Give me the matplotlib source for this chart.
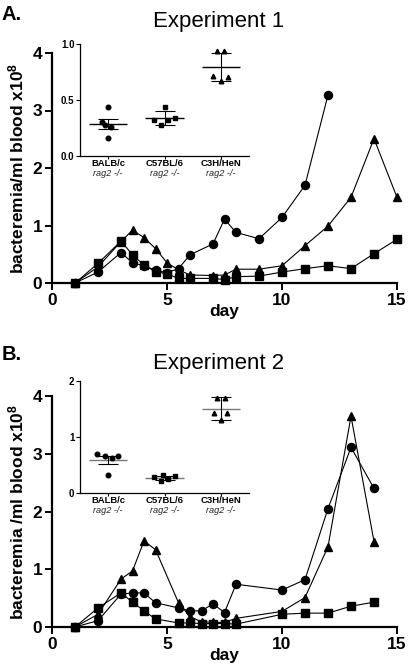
import matplotlib
matplotlib.use('Agg')
import matplotlib.pyplot as plt
import numpy as np

plt.rcParams['font.family'] = ['Liberation Sans', 'DejaVu Sans']
plt.rcParams['mathtext.fontset'] = 'custom'
plt.rcParams['mathtext.rm'] = 'Liberation Sans'
plt.rcParams['mathtext.bf'] = 'Liberation Sans:bold'
plt.rcParams['mathtext.it'] = 'Liberation Sans:italic'

# ---------------- Experiment 1 ----------------
circ_a_days = [1, 2, 3, 3.5, 4, 4.5, 5, 5.5, 6, 7, 7.5, 8, 9, 10, 11, 12]
circ_a_vals = [0, 0.19, 0.53, 0.35, 0.30, 0.22, 0.18, 0.25, 0.49, 0.68, 1.11, 0.88, 0.77, 1.14, 1.70, 3.27]
tri_a_days = [1, 2, 3, 3.5, 4, 4.5, 5, 5.5, 6, 7, 7.5, 8, 9, 10, 11, 12, 13, 14, 15]
tri_a_vals = [0, 0.28, 0.72, 0.92, 0.79, 0.60, 0.35, 0.23, 0.14, 0.13, 0.14, 0.24, 0.24, 0.30, 0.65, 0.99, 1.49, 2.51, 1.49]
sq_a_days = [1, 2, 3, 3.5, 4, 4.5, 5, 5.5, 6, 7, 7.5, 8, 9, 10, 11, 12, 13, 14, 15]
sq_a_vals = [0, 0.34, 0.73, 0.49, 0.31, 0.20, 0.16, 0.08, 0.08, 0.08, 0.06, 0.11, 0.12, 0.19, 0.25, 0.30, 0.25, 0.51, 0.76]

# ---------------- Experiment 2 ----------------
circ_b_days = [1, 2, 3, 3.5, 4, 4.5, 5.5, 6, 6.5, 7, 7.5, 8, 10, 11, 12, 13, 14]
circ_b_vals = [0, 0.11, 0.57, 0.59, 0.59, 0.42, 0.33, 0.28, 0.28, 0.40, 0.25, 0.74, 0.64, 0.82, 2.05, 3.11, 2.40]
tri_b_days = [1, 2, 3, 3.5, 4, 4.5, 5.5, 6, 6.5, 7, 7.5, 8, 10, 11, 12, 13, 14]
tri_b_vals = [0, 0.22, 0.83, 0.97, 1.49, 1.34, 0.42, 0.18, 0.09, 0.08, 0.08, 0.15, 0.27, 0.51, 1.39, 3.65, 1.48]
sq_b_days = [1, 2, 3, 3.5, 4, 4.5, 5.5, 6, 6.5, 7, 7.5, 8, 10, 11, 12, 13, 14]
sq_b_vals = [0, 0.33, 0.59, 0.43, 0.28, 0.14, 0.07, 0.07, 0.06, 0.06, 0.06, 0.05, 0.22, 0.24, 0.24, 0.36, 0.43]

# ---------------- Insets ----------------
groups = ['BALB/c', 'C57BL/6', 'C3H/HeN']
group_sub = ['rag2 -/-', 'rag2 -/-', 'rag2 -/-']
ins_a_balb = [0.44, 0.30, 0.28, 0.26, 0.16]
ins_a_c57 = [0.44, 0.32, 0.28, 0.32, 0.34]
ins_a_c3h = [0.93, 0.93, 0.71, 0.67, 0.70]
ins_a_err = [0.045, 0.06, 0.125]
ins_b_balb = [0.69, 0.66, 0.63, 0.66, 0.33]
ins_b_c57 = [0.28, 0.32, 0.21, 0.25, 0.30]
ins_b_c3h = [1.70, 1.70, 1.42, 1.30, 1.42]
ins_b_err = [0.07, 0.04, 0.20]

jit_a = [[0, -0.11, -0.06, 0.05, 0],
         [0, -0.18, -0.06, 0.06, 0.18],
         [-0.07, 0.06, -0.14, 0, 0.12]]
jit_b = [[-0.19, -0.05, 0.07, 0.18, 0],
         [-0.18, -0.02, -0.07, 0.06, 0.18],
         [-0.07, 0.07, -0.12, 0, 0.11]]

fig = plt.figure(figsize=(4.08, 6.70), dpi=100)


def main_panel(rect, cd, cv, td, tv, sd, sv, ylabel):
    ax = fig.add_axes(rect)
    kw = dict(color='black', lw=0.8, mfc='black', mec='black', clip_on=False)
    ax.plot(sd, sv, marker='s', ms=5.5, zorder=3, **kw)
    ax.plot(cd, cv, marker='o', ms=5.8, zorder=3, **kw)
    ax.plot(td, tv, marker='^', ms=6.3, zorder=3, **kw)
    ax.set_xlim(0, 15)
    ax.set_ylim(0, 4)
    ax.set_xticks([0, 5, 10, 15])
    ax.set_yticks([0, 1, 2, 3, 4])
    for s in ['top', 'right']:
        ax.spines[s].set_visible(False)
    for s in ['left', 'bottom']:
        ax.spines[s].set_linewidth(1.6)
    ax.tick_params(width=1.4, length=5, labelsize=12.5, pad=2)
    for t in ax.get_xticklabels() + ax.get_yticklabels():
        t.set_fontweight('bold')
    ax.set_xlabel('day', fontsize=12.5, fontweight='bold', labelpad=-3)
    ax.set_ylabel(ylabel, fontsize=12.5, fontweight='bold')
    ax.yaxis.set_label_coords(-0.074, 0.5)
    return ax


def inset(rect, data, jit, err, ylim, yticks, yticklabels, mean_color):
    ax = fig.add_axes(rect)
    markers = ['o', 's', '^']
    for i, vals in enumerate(data):
        x = np.array(jit[i]) + i
        ax.plot(x, vals, ls='none', marker=markers[i], ms=3.3, color='black', zorder=3)
        m = np.mean(vals)
        ax.hlines(m, i - 0.34, i + 0.34, color=mean_color, lw=1.0, zorder=2)
        ax.errorbar([i], [m], yerr=[err[i]], fmt='none', ecolor='black',
                    elinewidth=0.8, capsize=7, capthick=0.8, zorder=2)
    ax.set_xlim(-0.5, 2.5)
    ax.set_ylim(*ylim)
    ax.set_yticks(yticks)
    ax.set_yticklabels(yticklabels)
    ax.set_xticks([0, 1, 2])
    ax.set_xticklabels([])
    for s in ['top', 'right']:
        ax.spines[s].set_visible(False)
    for s in ['left', 'bottom']:
        ax.spines[s].set_linewidth(0.9)
    ax.tick_params(width=0.8, length=3, labelsize=7, pad=1)
    ax.tick_params(axis='x', length=2)
    for t in ax.get_yticklabels():
        t.set_fontweight('bold')
    ax.patch.set_alpha(0)
    for i in range(3):
        ax.text(i, -0.03, groups[i], transform=ax.get_xaxis_transform(),
                ha='center', va='top', fontsize=6.8, fontweight='bold')
        ax.text(i, -0.115, group_sub[i], transform=ax.get_xaxis_transform(),
                ha='center', va='top', fontsize=6.6, style='italic', color='#222222')
    return ax


axA = main_panel([52 / 408, 1 - 283 / 670, 345 / 408, 230 / 670],
                 circ_a_days, circ_a_vals, tri_a_days, tri_a_vals, sq_a_days, sq_a_vals,
                 r'bacteremia/ml blood x10$^{\mathbf{8}}$')
axB = main_panel([52 / 408, 1 - 627 / 670, 345 / 408, 231 / 670],
                 circ_b_days, circ_b_vals, tri_b_days, tri_b_vals, sq_b_days, sq_b_vals,
                 r'bacteremia /ml blood x10$^{\mathbf{8}}$')

inset([80 / 408, 1 - 156 / 670, 169 / 408, 112.5 / 670],
      [ins_a_balb, ins_a_c57, ins_a_c3h], jit_a, ins_a_err,
      (0, 1.0), [0, 0.5, 1.0], ['0.0', '0.5', '1.0'], 'black')
inset([80 / 408, 1 - 493 / 670, 169 / 408, 112 / 670],
      [ins_b_balb, ins_b_c57, ins_b_c3h], jit_b, ins_b_err,
      (0, 2), [0, 1, 2], ['0', '1', '2'], '#777777')

fig.text(219 / 408, 1 - 21 / 670, 'Experiment 1', ha='center', va='center', fontsize=16)
fig.text(219 / 408, 1 - 364 / 670, 'Experiment 2', ha='center', va='center', fontsize=16)
fig.text(2 / 408, 1 - 14 / 670, 'A.', ha='left', va='center', fontsize=14.5, fontweight='bold')
fig.text(2 / 408, 1 - 354 / 670, 'B.', ha='left', va='center', fontsize=14.5, fontweight='bold')

fig.savefig('out.png', dpi=100)
